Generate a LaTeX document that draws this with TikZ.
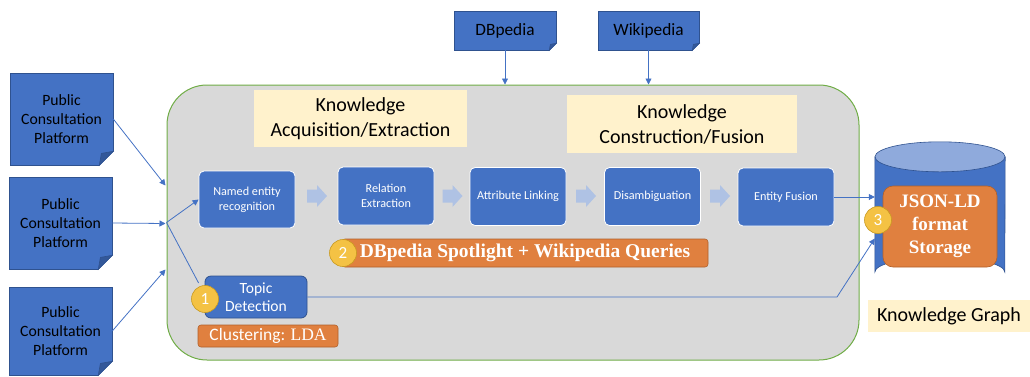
\documentclass[tikz,border=0pt]{standalone}
\usepackage{fontspec}
\setmainfont{Carlito}
\newfontfamily\cambria{Liberation Serif}
\usetikzlibrary{calc,arrows.meta}

\definecolor{boxblue}{HTML}{4472C4}
\definecolor{darkblue}{HTML}{2F528F}
\definecolor{flowblue}{HTML}{AFC2E4}
\definecolor{topblue}{HTML}{8FAADC}
\definecolor{panelgray}{HTML}{D9D9D9}
\definecolor{panelgreen}{HTML}{70AD47}
\definecolor{notecream}{HTML}{FFF2CC}
\definecolor{tagorange}{HTML}{E0803F}
\definecolor{tagedge}{HTML}{B0602A}
\definecolor{badgeyellow}{HTML}{F4C244}
\definecolor{badgeedge}{HTML}{C89A20}

\def\foldcorner#1#2{\fill[white] ($(#1.south east)+(-#2,0.8)$) -- ($(#1.south east)+(0.8,0.8)$) -- ($(#1.south east)+(0.8,-#2)$) -- cycle;
	\draw[darkblue, line width=0.6pt, fill=darkblue!80!boxblue] ($(#1.south east)+(-#2,0)$) -- ($(#1.south east)+(0,-#2)$) -- ($(#1.south east)+(-0.85*#2,-0.85*#2)$) -- cycle;}

\tikzset{
	source/.style={fill=boxblue, draw=darkblue, line width=0.6pt, align=center, inner sep=0pt, text=black},
	stage/.style={fill=boxblue, draw=white, line width=0.8pt, rounded corners=5pt, align=center, text=white, minimum width=96pt, minimum height=58pt, inner sep=0pt, font=\fontsize{12.2}{15}\selectfont},
	note/.style={fill=notecream, align=center, inner sep=0pt, text=black},
	tag/.style={fill=tagorange, draw=tagedge, line width=0.6pt, text=white, inner sep=0pt},
	badge/.style={circle, fill=badgeyellow, draw=badgeedge, line width=0.6pt, text=white, minimum size=27pt, inner sep=0pt, font=\fontsize{17}{17}\selectfont},
	link/.style={draw=boxblue, line width=0.8pt},
	tip/.style={-{Triangle[length=6pt, width=6pt]}}
}

\begin{document}
\begin{tikzpicture}[x=1pt, y=-1pt]
	%%%%% START %%%%%
	\useasboundingbox (0,0) rectangle (1030,376);
	
	% panel
	\node[fill=panelgray, draw=panelgreen, line width=1pt, rounded corners=40pt, minimum width=692pt, minimum height=275pt, inner sep=0pt] (kbox) at (513,222.5) {};
	
	\node[note, minimum width=213pt, minimum height=57pt, font=\fontsize{20}{25}\selectfont] (acq) at (360.5,118.5) {Knowledge\\Acquisition/Extraction};
	\node[note, minimum width=230pt, minimum height=58pt, font=\fontsize{20}{25}\selectfont] (con) at (682,124) {Knowledge\\Construction/Fusion};
	
	% sources
	\node[source, minimum width=103pt, minimum height=92pt, font=\fontsize{15.7}{19}\selectfont] (pcp1) at (61.5,119) {Public\\Consultation\\Platform};
	\foldcorner{pcp1}{14}
	\node[source, minimum width=103pt, minimum height=92pt, font=\fontsize{15.7}{19}\selectfont] (pcp2) at (60.5,223) {Public\\Consultation\\Platform};
	\foldcorner{pcp2}{14}
	\node[source, minimum width=103pt, minimum height=88pt, font=\fontsize{15.7}{19}\selectfont] (pcp3) at (60.5,331) {Public\\Consultation\\Platform};
	\foldcorner{pcp3}{14}
	
	\node[source, minimum width=102pt, minimum height=39pt, font=\fontsize{17.3}{20}\selectfont] (dbp) at (505,30.5) {DBpedia};
	\foldcorner{dbp}{7}
	\node[source, minimum width=101pt, minimum height=39pt, font=\fontsize{17.3}{20}\selectfont] (wiki) at (648.5,30.5) {Wikipedia};
	\foldcorner{wiki}{7}
	
	\draw[link, tip] (dbp.south) -- (dbp.south |- kbox.north);
	\draw[link, tip] (wiki.south) -- (wiki.south |- kbox.north);
	
	\draw[link, tip] (pcp1.east) -- ($(kbox.west)+(-1,-37)$);
	\draw[link, tip] (pcp2.east) -- ($(kbox.west)+(-1,1)$);
	\draw[link, tip] (pcp3.east) -- ($(kbox.west)+(-1,47)$);
	
	% pipeline
	\node[stage, minimum height=57pt] (ner) at (247,199.5) {Named entity\\recognition};
	\node[stage] (rel) at (386,196) {Relation\\Extraction};
	\node[stage] (attr) at (518,196.5) {Attribute Linking};
	\node[stage] (dis) at (652.5,196.5) {Disambiguation};
	\node[stage] (fusion) at (786,197) {Entity Fusion};
	
	\foreach \fx in {317,452.5,586,720}
		\fill[flowblue, shift={(\fx,196)}] (-10,-6.5) -- (0,-6.5) -- (0,-11) -- (10,0) -- (0,11) -- (0,6.5) -- (-10,6.5) -- cycle;
	
	\node[tag, rounded corners=3pt, minimum width=366pt, minimum height=28pt, font=\cambria\bfseries\fontsize{19.5}{21}\selectfont] (spot) at (525,253) {DBpedia Spotlight + Wikipedia Queries};
	\node[badge] (b2) at (343,253) {2};
	
	\node[fill=boxblue, draw=darkblue, line width=0.8pt, rounded corners=6pt, align=center, text=white, minimum width=102pt, minimum height=42pt, inner sep=0pt, font=\fontsize{15.6}{18}\selectfont] (topic) at (256,297) {Topic\\Detection};
	\node[tag, rounded corners=3pt, minimum width=140pt, minimum height=22pt, font=\fontsize{17.5}{19}\selectfont] (lda) at (268,336) {Clustering: {\cambria LDA}};
	
	\draw[link, tip] (kbox.west) -- (ner.west);
	\draw[link] (kbox.west) -- ($(topic.west)+(-6,-14)$);
	\node[badge] (b1) at (205,299) {1};
	
	% knowledge graph
	\node[minimum width=130pt, minimum height=145pt, inner sep=0pt] (kg) at (940,214.5) {};
	\filldraw[fill=boxblue, draw=darkblue, line width=0.6pt] (kg.north west) ++(0,15) -- ($(kg.south west)+(0,-15)$) arc[start angle=180, end angle=0, x radius=65pt, y radius=15pt] -- ($(kg.north east)+(0,15)$) -- cycle;
	\filldraw[fill=topblue, draw=darkblue, line width=0.6pt] ($(kg.north)+(0,15)$) ellipse [x radius=65pt, y radius=15pt];
	\node[tag, rounded corners=10pt, align=center, minimum width=114pt, minimum height=81pt, font=\cambria\bfseries\fontsize{19}{23}\selectfont] (json) at (940,226.5) {JSON-LD\\format\\Storage};
	
	\draw[link, tip] (fusion.east) -- (fusion.east -| kg.west);
	\coordinate (tdbend) at (837,297);
	\draw[link, tip] (topic.east) -- (tdbend) -- ($(kg.west)+(0,24)$);
	\node[badge] (b3) at (878,220) {3};
	
	\node[note, minimum width=162pt, minimum height=32pt, font=\fontsize{20}{23}\selectfont] (kglabel) at (949,316) {Knowledge Graph};
	
	%%%%% END %%%%%
\end{tikzpicture}
\end{document}
